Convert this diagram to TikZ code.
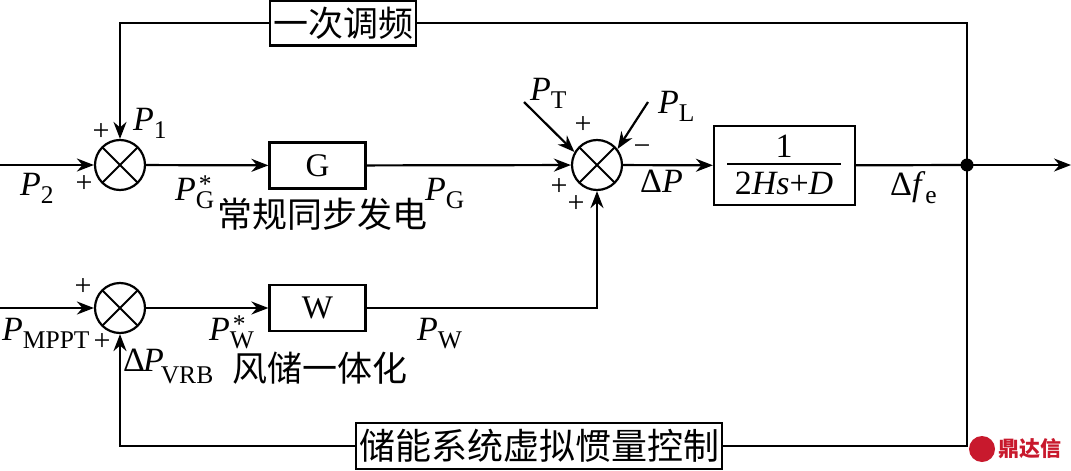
\documentclass[tikz,border=0pt]{standalone}
\usepackage{xcolor}
\usepackage{fontspec}
\setmainfont{Liberation Serif}
\newfontfamily\cjkfont{Noto Sans CJK SC}
\usetikzlibrary{arrows.meta, positioning, calc}
\definecolor{markred}{RGB}{200, 25, 45}
\newcommand{\subfont}{\fontsize{25.5}{25.5}\selectfont}
\newcommand{\syma}[3][-8pt]{\textit{#2}\raisebox{#1}{\subfont #3}}
\newcommand{\symb}[2]{\textit{#1}\rlap{\hspace{3pt}\raisebox{8pt}{\subfont *}}\raisebox{-8pt}{\subfont #2}}
\tikzset{
    line/.style={line width=2.2pt, draw=black},
    flow/.style={line, -{Stealth[length=17pt, width=13pt]}},
    blockbox/.style={draw=black, line width=2.2pt, fill=white, minimum width=96pt, minimum height=46pt, inner sep=0pt, font=\fontsize{33}{33}\selectfont},
    ctrlbox/.style={blockbox, font=\fontsize{35}{35}\selectfont\cjkfont},
    sumnode/.style={circle, draw=black, line width=2.2pt, minimum size=50pt, inner sep=0pt,
        path picture={\draw[line width=1.8pt] (path picture bounding box.north west) -- (path picture bounding box.south east)
            (path picture bounding box.north east) -- (path picture bounding box.south west);}},
    lab/.style={inner sep=0pt, anchor=base west, font=\fontsize{34}{34}\selectfont},
    sign/.style={inner sep=0pt, font=\fontsize{30}{30}\selectfont},
    cjk/.style={inner sep=0pt, font=\fontsize{35}{35}\selectfont\cjkfont},
}
\begin{document}
\begin{tikzpicture}[x=1pt, y=-1pt]
    \useasboundingbox (0,0) rectangle (1071,471);

    % summing points
    \node[sumnode] (sumG) at (120,165) {};
    \node[sumnode] (sumW) at (120,308) {};
    \node[sumnode] (sumP) at (597,165) {};

    % blocks
    \node[blockbox] (blockG) at (317.5,165.5) {G};
    \node[blockbox] (blockW) at (317.5,308) {W};
    \node[blockbox, minimum width=141pt, minimum height=79pt] (blockH) at (784.5,165.5) {};
    \node[lab, anchor=base] (numH) at (784,157) {1};
    \node[lab, anchor=base] (denH) at (784,194) {2\textit{Hs}+\textit{D}};
    \coordinate (fracL) at (727,163.5);
    \coordinate (fracR) at (841,163.5);
    \draw[line width=2pt] (fracL) -- (fracR);
    \node[ctrlbox, minimum width=146pt, minimum height=45pt] (blockPF) at (343,23) {一次调频};
    \node[ctrlbox, minimum width=366pt, minimum height=46pt, font=\fontsize{36}{36}\selectfont\cjkfont] (blockVI) at (539,446) {储能系统虚拟惯量控制};

    % junction and free ends
    \coordinate (junc) at (967,165);
    \coordinate (inG) at (0,165);
    \coordinate (inW) at (0,308);
    \coordinate (outF) at (1071,165);
    \coordinate (startT) at (524,102);
    \coordinate (startL) at (648,102);

    % forward paths
    \draw[flow] (inG) -- (sumG);
    \draw[flow] (inW) -- (sumW);
    \draw[flow] (sumG) -- (blockG);
    \draw[flow] (sumW) -- (blockW);
    \draw[flow] (blockG) -- (sumP);
    \draw[flow] (blockW.east) -| (sumP.south);
    \draw[flow] (sumP) -- (blockH);
    \draw[line] (blockH) -- (junc);
    \draw[flow] (junc) -- (outF);
    \draw[flow] (startT) -- (sumP.150);
    \draw[flow] (startL) -- (sumP.38);

    % feedback paths
    \draw[line] (junc) |- (blockPF.east);
    \draw[flow] (blockPF.west) -| (sumG.north);
    \draw[line] (junc) |- (blockVI.east);
    \draw[flow] (blockVI.west) -| (sumW.south);
    \fill[black] (junc) circle (6.5pt);

    % labels
    \node[lab] (labP1) at (133,130) {\syma{P}{1}};
    \node[lab] (labP2) at (20,195) {\syma{P}{2}};
    \node[lab] (labPGs) at (175,200) {\symb{P}{G}};
    \node[lab] (labPG) at (425,200) {\syma{P}{G}};
    \node[lab] (labPT) at (530,100) {\syma{P}{T}};
    \node[lab] (labPL) at (658,113) {\syma{P}{L}};
    \node[lab] (labDP) at (640,192) {Δ\textit{P}};
    \node[lab] (labDf) at (890,195) {Δ\textit{f}\raisebox{-8pt}{\subfont e}};
    \node[lab] (labMP) at (2,340) {\syma{P}{MPPT}};
    \node[lab] (labPWs) at (209,340) {\symb{P}{W}};
    \node[lab] (labPW) at (417,340) {\syma{P}{W}};
    \node[lab] (labVRB) at (123,371) {Δ\hspace{-2pt}\textit{P}\hspace{-3pt}\raisebox{-12pt}{\subfont VRB}};
    \node[cjk] (nameG) at (322,214) {常规同步发电};
    \node[cjk] (nameW) at (320,368) {风储一体化};

    % signs
    \node[sign] (sgn1) at (101,132) {+};
    \node[sign] (sgn2) at (84,184) {+};
    \node[sign] (sgn3) at (83,287) {+};
    \node[sign] (sgn4) at (102,342) {+};
    \node[sign] (sgn5) at (583,125) {+};
    \node[sign] (sgn6) at (559,187) {+};
    \node[sign] (sgn7) at (576,204) {+};
    \node[sign] (sgn8) at (642,150) {−};

    % mark
    \node[circle, fill=markred, minimum size=26pt, inner sep=0pt] (markdot) at (982,449) {};
    \node[inner sep=0pt, text=markred, font=\fontsize{21}{21}\selectfont\bfseries\cjkfont] (marktext) at (1030,449) {鼎达信};
\end{tikzpicture}
\end{document}
